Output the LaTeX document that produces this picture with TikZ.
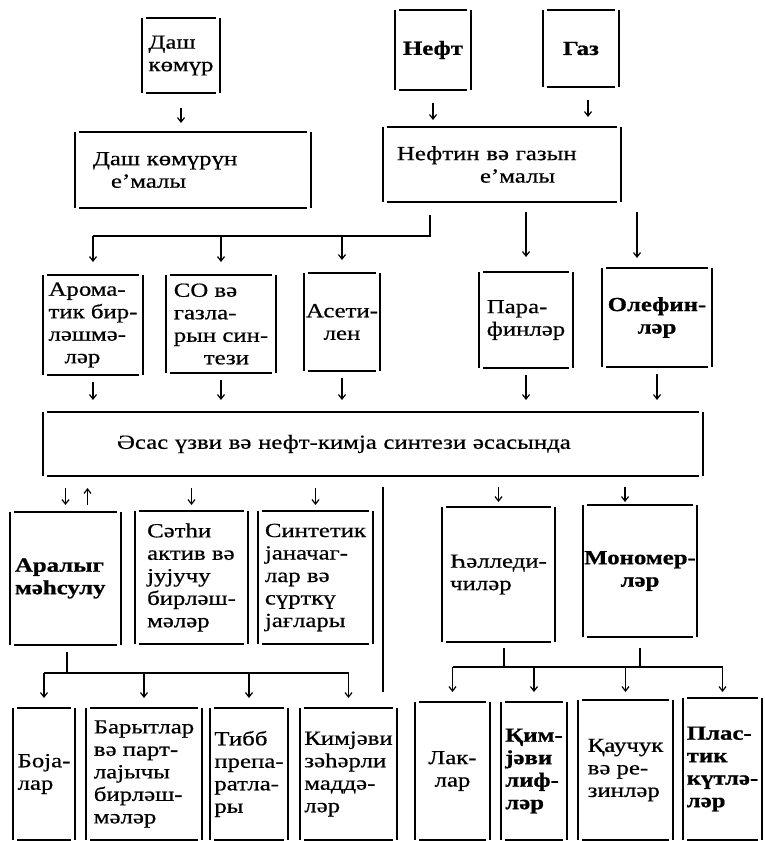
\documentclass[tikz,border=0pt]{standalone}
\usepackage{fontspec}
\setmainfont{Liberation Serif}[FakeStretch=1.24, FakeBold=0.6, BoldFeatures={FakeBold=0.8}]
\usetikzlibrary{arrows.meta,calc}
\begin{document}
\begin{tikzpicture}[x=1pt,y=-1pt,
  box/.style={draw=none, inner sep=1pt, outer sep=0pt, font=\fontsize{20}{22.5}\selectfont},
  vside/.style={line width=1.5pt},
  hside/.style={line width=1.1pt},
  ln/.style={line width=1.1pt},
  arr/.style={line width=1.2pt, -{Straight Barb[length=4.5pt,width=7pt]}}]
\useasboundingbox (0,0) rectangle (765,841);

% top row
\node[box, minimum width=78pt, minimum height=75pt, align=left] (dk) at (181,55.5) {Даш\\көмүр};
\node[box, minimum width=76pt, minimum height=80pt, align=center] (nf) at (433,50) {\textbf{Нефт}};
\node[box, minimum width=76pt, minimum height=77pt, align=center] (gz) at (581,48.5) {\textbf{Газ}};

% processing
\node[box, minimum width=236pt, minimum height=76pt, text width=200pt, align=left] (dke) at (193,170) {Даш көмүрүн\\\hspace*{18pt}е'малы};
\node[box, minimum width=238pt, minimum height=75pt, text width=210pt, align=left] (nge) at (502,164.5) {Нефтин вә газын\\\hspace*{83pt}е'малы};

% intermediate
\node[box, minimum width=100pt, minimum height=100pt, align=left] (ar) at (93,325) {Арома-\\тик бир-\\ләшмә-\\\hspace*{16pt}ләр};
\node[box, minimum width=110pt, minimum height=98pt, align=left] (co) at (221,324) {СО вә\\газла-\\рын син-\\\hspace*{30pt}тези};
\node[box, minimum width=76pt, minimum height=98pt, align=center] (as) at (342,322) {Асети-\\лен};
\node[box, minimum width=94pt, minimum height=96pt, align=left] (pf) at (526,320) {Пара-\\финләр};
\node[box, minimum width=110pt, minimum height=99pt, align=center] (ol) at (657,317.5) {\textbf{Олефин-}\\\textbf{ләр}};

% main synthesis
\node[box, minimum width=660pt, minimum height=64pt, text width=512pt, align=left] (big) at (373,444) {Әсас үзви вә нефт-кимја синтези әсасында};

% products row 1
\node[box, minimum width=111pt, minimum height=133pt, text width=101pt, align=left] (am) at (65.5,578.5) {\textbf{Аралыг}\\\textbf{мәһсулу}};
\node[box, minimum width=113pt, minimum height=133pt, align=left] (sa) at (191.5,577.5) {Сәтһи\\актив вә\\јујучу\\бирләш-\\мәләр};
\node[box, minimum width=115pt, minimum height=133pt, align=left] (sy) at (315.5,577.5) {Синтетик\\јаначаг-\\лар вә\\сүрткү\\јағлары};
\node[box, minimum width=113pt, minimum height=135pt, align=left] (hl) at (498.5,574.5) {Һәлледи-\\чиләр};
\node[box, minimum width=114pt, minimum height=132pt, align=center] (mn) at (640,571) {\textbf{Мономер-}\\\textbf{ләр}};

% products row 2
\node[box, minimum width=62pt, minimum height=132pt, align=left] (bj) at (44,774) {Боја-\\лар};
\node[box, minimum width=116pt, minimum height=132pt, align=left] (br) at (144,774) {Барытлар\\вә парт-\\лајычы\\бирләш-\\мәләр};
\node[box, minimum width=78pt, minimum height=132pt, align=left] (tb) at (249,774) {Тибб\\препа-\\ратла-\\ры};
\node[box, minimum width=97pt, minimum height=132pt, align=left] (kz) at (348.5,774) {Кимјәви\\зәһәрли\\маддә-\\ләр};
\node[box, minimum width=75pt, minimum height=138pt, align=center] (lk) at (452.5,771) {Лак-\\лар};
\node[box, minimum width=66pt, minimum height=138pt, align=left] (kl) at (534,771) {\textbf{Қим-}\\\textbf{јәви}\\\textbf{лиф-}\\\textbf{ләр}};
\node[box, minimum width=95pt, minimum height=140pt, align=left] (kr) at (625.5,770) {Қаучук\\вә ре-\\зинләр};
\node[box, minimum width=79pt, minimum height=142pt, align=left] (pl) at (722.5,769) {\textbf{Плас-}\\\textbf{тик}\\\textbf{күтлә-}\\\textbf{ләр}};

% borders
\foreach \n in {dk,nf,gz,dke,nge,ar,co,as,pf,ol,big,am,sa,sy,hl,mn,bj,br,tb,kz,lk,kl,kr,pl}{
  \draw[vside] (\n.north west) -- (\n.south west);
  \draw[vside] (\n.north east) -- (\n.south east);
  \draw[hside] ([xshift=4pt]\n.north west) -- ([xshift=-4pt]\n.north east);
  \draw[hside] ([xshift=4pt]\n.south west) -- ([xshift=-4pt]\n.south east);
}
\draw[line width=2.6pt] (pl.north east) -- (pl.south east);

% top arrows
\draw[arr, shorten <=15pt, shorten >=9pt] (dk.south) -- (dk.south |- dke.north);
\draw[arr, shorten <=13pt, shorten >=7pt] (nf.south) -- (nf.south |- nge.north);
\draw[arr, shorten <=13pt, shorten >=10pt] ([xshift=7pt]gz.south) -- ([xshift=7pt]gz.south |- nge.north);

% bus from oil/gas processing
\coordinate (b1) at (430,236);
\draw[ln, shorten <=13pt] (nge.south -| b1) -- (b1) -- (b1 -| ar.north);
\foreach \t in {ar,co,as}{
  \draw[arr, shorten >=13pt] (b1 -| \t.north) -- (\t.north);
}
\draw[arr, shorten <=10pt, shorten >=15pt] (nge.south -| pf.north) -- (pf.north);
\draw[arr, shorten <=10pt, shorten >=10pt] ([xshift=-20pt]ol.north |- nge.south) -- ([xshift=-20pt]ol.north);

% to main synthesis
\foreach \s in {ar,co,as,pf,ol}{
  \draw[arr, shorten <=7pt, shorten >=12pt] (\s.south) -- (\s.south |- big.north);
}

% from main synthesis
\draw[arr, shorten <=12pt, shorten >=7pt] (big.south -| am.north) -- (am.north);
\draw[arr, shorten <=7pt, shorten >=12pt] ([xshift=22pt]am.north) -- ([xshift=22pt]am.north |- big.south);
\draw[arr, shorten <=12pt, shorten >=6pt] (big.south -| sa.north) -- (sa.north);
\draw[arr, shorten <=12pt, shorten >=6pt] (big.south -| sy.north) -- (sy.north);
\draw[arr, shorten <=11pt, shorten >=5pt] (big.south -| hl.north) -- (hl.north);
\draw[arr, shorten <=11pt, shorten >=3pt] ([xshift=-15pt]mn.north |- big.south) -- ([xshift=-15pt]mn.north);
\coordinate (vline) at (383,692);
\draw[ln, shorten <=11pt] (big.south -| vline) -- (vline);

% lower left bus
\coordinate (b2) at (67,673);
\draw[ln, shorten <=7pt] (am.south -| b2) -- (b2);
\draw[ln] (b2 -| bj.north) -- (b2 -| kz.north);
\foreach \t in {bj,br,tb,kz}{
  \draw[arr, shorten >=10pt] (b2 -| \t.north) -- (\t.north);
}

% lower right bus
\coordinate (b3) at (504,667);
\coordinate (b4) at (640,667);
\draw[ln, shorten <=6pt] (hl.south -| b3) -- (b3);
\draw[ln, shorten <=11pt] (mn.south -| b4) -- (b4);
\draw[ln] (b3 -| lk.north) -- (b3 -| pl.north);
\draw[arr, shorten >=10pt] (b3 -| lk.north) -- (lk.north);
\draw[arr, shorten >=10pt] (b3 -| kl.north) -- (kl.north);
\draw[arr, shorten >=8pt] (b3 -| kr.north) -- (kr.north);
\draw[arr, shorten >=6pt] (b3 -| pl.north) -- (pl.north);
\end{tikzpicture}
\end{document}
